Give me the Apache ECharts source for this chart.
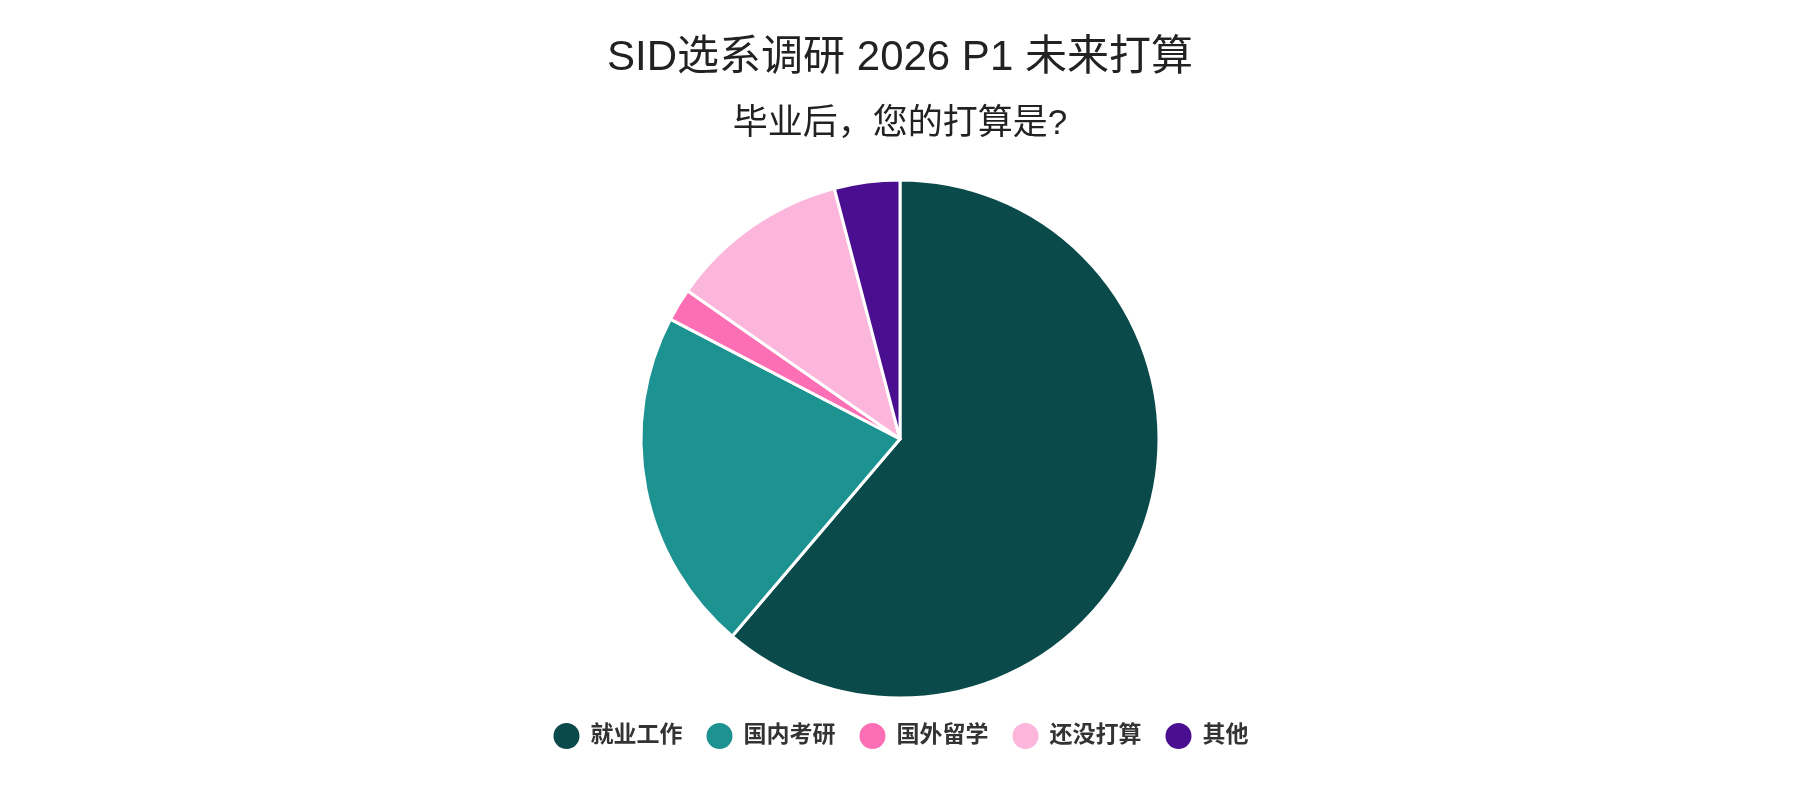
<!DOCTYPE html>
<html lang="zh">

<head>
    <meta charset="UTF-8">
    <title>SID选系调研 2026 P1 未来打算</title>
    <script src="https://cdn.jsdelivr.net/npm/echarts@6.0.0/dist/echarts.min.js"></script>
    <style>
        html, body { margin: 0; padding: 0; background: #fff; }
    </style>
</head>

<body>
    <div id="main" style="width: 1800px; height: 800px;"></div>
    <script type="text/javascript">
        // survey answers (clockwise from 12 o'clock)
        const categories = ['就业工作', '国内考研', '国外留学', '还没打算', '其他'];
        const counts = [60, 21, 2, 11, 4];
        const colors = ['#0b4a4b', '#1c9391', '#fc6fb5', '#fcb5db', '#4a0f90'];

        const titleText = 'SID选系调研 2026 P1 未来打算';
        const subText = '毕业后，您的打算是?';

        const font = "'Liberation Sans', 'Noto Sans CJK SC', sans-serif";

        let myChart = echarts.init(document.getElementById('main'));

        const pieData = categories.map((name, i) => ({ name: name, value: counts[i] }));

        const options = {
            color: colors,
            animation: false,
            title: {
                text: titleText,
                subtext: subText,
                left: 'center',
                top: 32,
                itemGap: 28,
                textStyle: { fontSize: 42, fontWeight: 'normal', color: '#222', fontFamily: font },
                subtextStyle: { fontSize: 35, color: '#222', fontFamily: font }
            },
            legend: {
                top: 716,
                left: 'center',
                icon: 'circle',
                itemWidth: 28,
                itemHeight: 28,
                itemGap: 22,
                textStyle: {
                    fontSize: 23,
                    fontWeight: 'bold',
                    color: '#333',
                    fontFamily: font,
                    padding: [0, 0, 0, 5]
                }
            },
            series: [{
                type: 'pie',
                center: [900, 439],
                radius: 259,
                startAngle: 90,
                clockwise: true,
                label: { show: false },
                labelLine: { show: false },
                itemStyle: { borderColor: '#fff', borderWidth: 3 },
                data: pieData
            }]
        };

        myChart.setOption(options);
    </script>
</body>

</html>
